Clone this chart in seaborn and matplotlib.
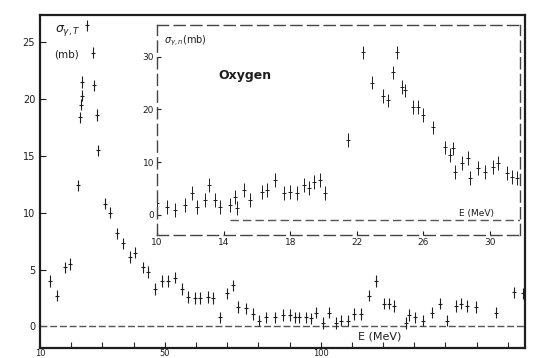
import matplotlib
matplotlib.use("Agg")
import matplotlib.pyplot as plt
import seaborn as sns
import pandas as pd

# ---- main plot data: total photoabsorption cross section (mb) vs E (MeV)
main_E = [13.2, 15.4, 18.0, 19.6, 22.2, 22.8, 23.1, 23.4, 23.6, 25.0, 27.0, 27.3,
          28.2, 28.6, 30.8, 32.4, 34.6, 36.6, 38.8, 40.4, 43.0, 44.6, 46.8, 49.0,
          51.0, 53.2, 55.4, 57.4, 59.6, 61.2, 63.8, 65.4, 67.6, 69.8, 71.8, 73.4,
          76.2, 78.2, 80.1, 82.6, 85.2, 87.8, 90.0, 91.6, 93.2, 95.4, 97.0, 98.6,
          100.6, 102.8, 105.0, 106.6, 108.6, 110.8, 113.0, 115.6, 117.8, 120.4,
          122.0, 123.6, 127.4, 128.4, 130.3, 132.9, 135.8, 138.3, 140.6, 143.4,
          145.0, 147.0, 149.8, 156.2, 162.0, 165.0]
main_sigma = [4.0, 2.7, 5.2, 5.5, 12.4, 18.4, 19.5, 20.3, 21.5, 26.5, 24.1, 21.2,
              18.6, 15.5, 10.8, 10.0, 8.2, 7.3, 6.1, 6.5, 5.2, 4.8, 3.3, 4.0,
              4.0, 4.3, 3.3, 2.6, 2.5, 2.5, 2.6, 2.5, 0.8, 2.9, 3.6, 1.7,
              1.6, 1.1, 0.5, 0.8, 0.8, 1.0, 1.0, 0.8, 0.8, 0.8, 0.7, 1.2,
              0.3, 1.2, 0.3, 0.5, 0.5, 1.1, 1.1, 2.7, 4.0, 2.0,
              2.0, 1.8, 0.3, 1.0, 0.8, 0.5, 1.2, 2.0, 0.5, 1.8,
              2.0, 1.8, 1.7, 1.2, 3.0, 2.9]
main_err = 0.5

# ---- inset data: (gamma,n) cross section (mb) vs E (MeV)
ins_E = [10.0, 10.6, 11.1, 11.7, 12.1, 12.4, 12.9, 13.1, 13.5, 13.8, 14.4, 14.7,
         14.8, 15.2, 15.6, 16.3, 16.6, 17.1, 17.6, 18.0, 18.4, 18.8, 19.1, 19.4,
         19.8, 20.1, 21.5, 22.4, 22.9, 23.6, 23.9, 24.2, 24.4, 24.7, 24.9, 25.4,
         25.7, 26.0, 26.6, 27.3, 27.6, 27.8, 27.9, 28.3, 28.7, 28.8, 29.3, 29.7,
         30.2, 30.5, 31.0, 31.3, 31.6, 31.9]
ins_sigma = [2.3, 1.5, 0.9, 1.9, 4.1, 1.5, 2.8, 5.7, 2.8, 1.5, 1.9, 3.4,
             1.3, 4.7, 2.8, 4.3, 4.7, 6.6, 4.2, 4.4, 4.2, 5.7, 5.1, 6.2,
             6.6, 4.2, 14.2, 30.8, 25.1, 22.6, 21.7, 27.0, 30.8, 24.2, 23.6, 20.4,
             20.4, 18.9, 16.6, 12.8, 11.4, 12.6, 8.1, 9.8, 10.8, 7.0, 8.9, 8.1,
             9.1, 9.8, 7.9, 7.2, 7.0, 9.8]
ins_err = 1.3

main_yticks = [0, 5, 10, 15, 20, 25]
main_xticks = [10, 50, 100]
ins_xticks = [10, 14, 18, 22, 26, 30]
ins_yticks = [0, 10, 20, 30]

sns.set_style("ticks")
plt.rcParams["font.family"] = ["DejaVu Sans"]
ink = "#1e1e1e"

fig = plt.figure(figsize=(5.39, 3.58), dpi=100)
ax = fig.add_axes([40 / 539, 10 / 358, 485 / 539, 333 / 358])

dm = pd.DataFrame({"E": main_E, "sigma": main_sigma})
ax.axhline(0, color="#555555", lw=1.0, ls=(0, (5, 2)), zorder=1)
ax.errorbar(dm["E"], dm["sigma"], yerr=main_err, fmt="none", ecolor=ink,
            elinewidth=0.8, capsize=0)
sns.scatterplot(data=dm, x="E", y="sigma", ax=ax, marker="_", s=12,
                color=ink, linewidth=0.8, legend=False)
ax.set_xlim(10, 165.5)
ax.set_ylim(-1.9, 27.4)
ax.set_xticks(main_xticks)
ax.set_xticks(list(range(20, 170, 10)), minor=True)
ax.set_yticks(main_yticks)
ax.tick_params(axis="both", direction="in", length=4, width=0.8, colors=ink,
               labelsize=7)
ax.tick_params(axis="x", which="minor", direction="in", length=4, width=0.8)
ax.tick_params(axis="x", pad=0.5, labelsize=6)
ax.set_xlabel("")
ax.set_ylabel("")
for sp in ax.spines.values():
    sp.set_visible(True)
    sp.set_color(ink)
    sp.set_linewidth(1.6)
ax.text(0.03, 0.975, r"$\sigma_{\gamma,T}$", transform=ax.transAxes,
        fontsize=9, va="top", ha="left", color=ink)
ax.text(0.03, 0.895, "(mb)", transform=ax.transAxes, fontsize=7.5,
        va="top", ha="left", color=ink)
ax.text(0.70, 0.02, "E (MeV)", transform=ax.transAxes, fontsize=8,
        va="bottom", ha="center", color=ink)

# ---- inset
ins = fig.add_axes([157 / 539, 1 - 235 / 358, 363 / 539, 210 / 358])
ins.patch.set_alpha(0)
di = pd.DataFrame({"E": ins_E, "sigma": ins_sigma})
ins.axhline(-1.0, xmin=0.2, xmax=1.0, color="#555555", lw=1.0,
            ls=(0, (6, 3)), zorder=1)
ins.errorbar(di["E"], di["sigma"], yerr=ins_err, fmt="none", ecolor=ink,
             elinewidth=0.7, capsize=0)
sns.scatterplot(data=di, x="E", y="sigma", ax=ins, marker="_", s=8,
                color=ink, linewidth=0.7, legend=False)
ins.set_xlim(10, 31.8)
ins.set_ylim(-3.8, 36)
ins.set_xticks(ins_xticks)
ins.set_yticks(ins_yticks)
ins.tick_params(axis="both", direction="in", length=3, width=0.8, colors=ink,
                labelsize=6.5, pad=2)
ins.set_xlabel("")
ins.set_ylabel("")
for sp in ins.spines.values():
    sp.set_visible(True)
    sp.set_color("#444444")
    sp.set_linewidth(1.0)
    sp.set_linestyle((0, (8, 4)))
ins.text(0.02, 0.96, r"$\sigma_{\gamma,n}$(mb)", transform=ins.transAxes,
         fontsize=7, va="top", ha="left", color=ink)
ins.text(0.17, 0.76, "Oxygen", transform=ins.transAxes, fontsize=9,
         fontweight="bold", va="center", ha="left", color=ink)
ins.text(0.88, 0.08, "E (MeV)", transform=ins.transAxes, fontsize=6.5,
         va="bottom", ha="center", color=ink)

fig.savefig("out.png", dpi=100)
